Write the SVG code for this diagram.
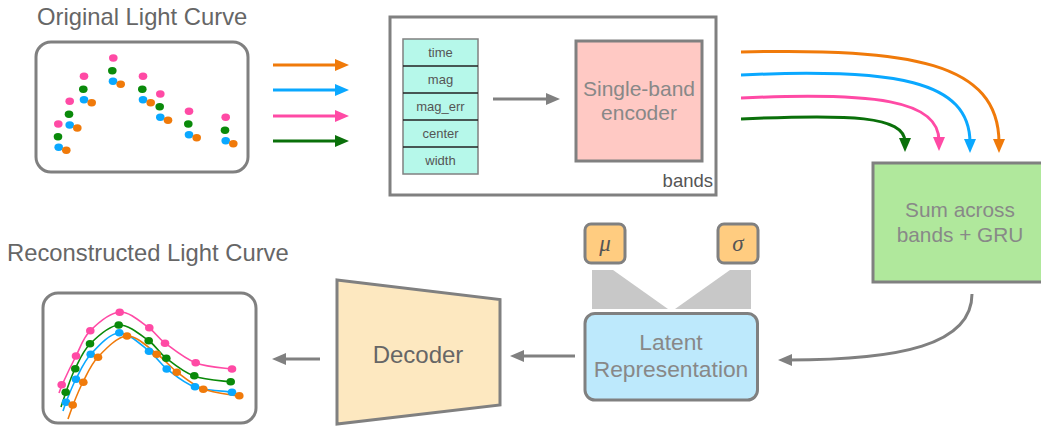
<svg xmlns="http://www.w3.org/2000/svg" width="1041" height="428" viewBox="0 0 1041 428">
<defs>
<style>
.box{stroke:#808080;stroke-width:3}
.title{font-family:"Liberation Sans",Arial,sans-serif;font-size:23.8px;fill:#666}
.lbl{font-family:"Liberation Sans",Arial,sans-serif;fill:#888;text-anchor:middle}
.tbl{font-family:"Liberation Sans",Arial,sans-serif;font-size:13px;fill:#555;text-anchor:middle}
.greek{font-family:"Liberation Serif","Times New Roman",serif;font-style:italic;font-size:23px;fill:#555;text-anchor:middle}
.pk{fill:#ff4aa5}.gr{fill:#0a8a0a}.bl{fill:#0aa8ff}.or{fill:#f07a0a}
.conn{fill:none;stroke-width:3}
.curve{fill:none;stroke-width:1.6}
</style>
<marker id="ah-or" markerUnits="userSpaceOnUse" markerWidth="14" markerHeight="12" refX="4" refY="6" orient="auto"><path d="M0,0 L14,6 L0,12 z" fill="#f07a0a"/></marker>
<marker id="ah-bl" markerUnits="userSpaceOnUse" markerWidth="14" markerHeight="12" refX="4" refY="6" orient="auto"><path d="M0,0 L14,6 L0,12 z" fill="#0aa8ff"/></marker>
<marker id="ah-pk" markerUnits="userSpaceOnUse" markerWidth="14" markerHeight="12" refX="4" refY="6" orient="auto"><path d="M0,0 L14,6 L0,12 z" fill="#ff4aa5"/></marker>
<marker id="ah-gr" markerUnits="userSpaceOnUse" markerWidth="14" markerHeight="12" refX="4" refY="6" orient="auto"><path d="M0,0 L14,6 L0,12 z" fill="#0a700a"/></marker>
<marker id="ah-gy" markerUnits="userSpaceOnUse" markerWidth="14" markerHeight="12" refX="4" refY="6" orient="auto"><path d="M0,0 L14,6 L0,12 z" fill="#808080"/></marker>
</defs>
<rect width="1041" height="428" fill="#fff"/>

<g id="original-curve">
<text class="title" x="37" y="25">Original Light Curve</text>
<rect class="box" x="36" y="42" width="212" height="130" rx="15" fill="#fff"/>
<g class="pk"><ellipse cx="58.3" cy="124" rx="4.3" ry="3.7"/><ellipse cx="69.7" cy="101.3" rx="4.3" ry="3.7"/><ellipse cx="84" cy="76.3" rx="4.3" ry="3.7"/><ellipse cx="113.3" cy="58" rx="4.3" ry="3.7"/><ellipse cx="143" cy="76.3" rx="4.3" ry="3.7"/><ellipse cx="160.3" cy="94" rx="4.3" ry="3.7"/><ellipse cx="189" cy="111.3" rx="4.3" ry="3.7"/><ellipse cx="225.7" cy="117.3" rx="4.3" ry="3.7"/></g>
<g class="gr"><ellipse cx="58" cy="136.7" rx="4.3" ry="3.7"/><ellipse cx="69" cy="114.3" rx="4.3" ry="3.7"/><ellipse cx="83.3" cy="89.3" rx="4.3" ry="3.7"/><ellipse cx="112.3" cy="70.7" rx="4.3" ry="3.7"/><ellipse cx="142.3" cy="89.3" rx="4.3" ry="3.7"/><ellipse cx="159.7" cy="106.7" rx="4.3" ry="3.7"/><ellipse cx="188.3" cy="124" rx="4.3" ry="3.7"/><ellipse cx="225" cy="130.3" rx="4.3" ry="3.7"/></g>
<g class="bl"><ellipse cx="58.7" cy="147.3" rx="4.3" ry="3.7"/><ellipse cx="69.7" cy="125" rx="4.3" ry="3.7"/><ellipse cx="84" cy="99.7" rx="4.3" ry="3.7"/><ellipse cx="113" cy="81.3" rx="4.3" ry="3.7"/><ellipse cx="143" cy="99.7" rx="4.3" ry="3.7"/><ellipse cx="160.3" cy="117.3" rx="4.3" ry="3.7"/><ellipse cx="189" cy="134.7" rx="4.3" ry="3.7"/><ellipse cx="225.7" cy="140.7" rx="4.3" ry="3.7"/></g>
<g class="or"><ellipse cx="66.3" cy="150.3" rx="4.3" ry="3.7"/><ellipse cx="77.3" cy="128" rx="4.3" ry="3.7"/><ellipse cx="91.7" cy="102.7" rx="4.3" ry="3.7"/><ellipse cx="120.7" cy="84.3" rx="4.3" ry="3.7"/><ellipse cx="150.7" cy="102.7" rx="4.3" ry="3.7"/><ellipse cx="168" cy="120.3" rx="4.3" ry="3.7"/><ellipse cx="196.7" cy="137.7" rx="4.3" ry="3.7"/><ellipse cx="233.3" cy="143.7" rx="4.3" ry="3.7"/></g>
</g>

<g id="bands-box">
<rect class="box" x="390" y="17" width="326" height="178" fill="#fff"/>
<text class="lbl" x="713" y="187" style="font-size:18.5px;fill:#555;text-anchor:end">bands</text>
</g>

<g id="feature-table">
<rect x="403" y="39" width="75" height="135" fill="#b6f8ea" stroke="#808080" stroke-width="1.5"/>
<g stroke="#222" stroke-width="1.3"><line x1="403" y1="66" x2="478" y2="66"/><line x1="403" y1="93" x2="478" y2="93"/><line x1="403" y1="120" x2="478" y2="120"/><line x1="403" y1="147" x2="478" y2="147"/></g>
<text class="tbl" x="440.5" y="57">time</text>
<text class="tbl" x="440.5" y="84">mag</text>
<text class="tbl" x="440.5" y="111">mag_err</text>
<text class="tbl" x="440.5" y="138">center</text>
<text class="tbl" x="440.5" y="165">width</text>
</g>

<g id="encoder">
<rect class="box" x="576" y="41" width="126" height="120" fill="#ffc9c4"/>
<text class="lbl" x="639" y="96" style="font-size:21px">Single-band</text>
<text class="lbl" x="639" y="120" style="font-size:21px">encoder</text>
</g>

<g id="gru">
<rect class="box" x="873" y="163" width="180" height="119" fill="#b0e89c"/>
<text class="lbl" x="960" y="217" style="font-size:20.8px">Sum across</text>
<text class="lbl" x="960" y="242" style="font-size:20.8px">bands + GRU</text>
</g>

<g id="mu">
<rect class="box" x="585" y="224" width="40" height="39" rx="6" fill="#ffcc80"/>
<text class="greek" x="605" y="251">μ</text>
</g>
<g id="sigma">
<rect class="box" x="718" y="224" width="40" height="39" rx="6" fill="#ffcc80"/>
<text class="greek" x="738" y="251">σ</text>
</g>

<g id="latent">
<polygon points="592,270 613,270 668,309 592,309" fill="#c8c8c8"/>
<polygon points="730,270 751,270 751,309 675,309" fill="#c8c8c8"/>
<rect class="box" x="585" y="313.5" width="172.5" height="86.5" rx="10" fill="#bde9fc"/>
<text class="lbl" x="671" y="350" style="font-size:22.8px">Latent</text>
<text class="lbl" x="671" y="377" style="font-size:22.8px">Representation</text>
</g>

<g id="decoder">
<polygon class="box" points="337,280 500,299.5 500,405 337,424" fill="#fde8c0"/>
<text class="lbl" x="418" y="363" style="font-size:24px;fill:#666">Decoder</text>
</g>

<g id="reconstructed-curve">
<text class="title" x="7" y="261">Reconstructed Light Curve</text>
<rect class="box" x="43" y="293" width="213" height="130" rx="15" fill="#fff"/>
<path class="curve" stroke="#ff4aa5" d="M59,393 L62,385 C64.8,378.8 71.3,365 76,356 C80.7,347 82.7,338.3 90,331 C97.3,323.7 110.2,312.5 120,312 C129.8,311.5 141.5,322.8 149,328 C156.5,333.2 157.2,337.2 165,343 C172.8,348.8 184.8,358.7 196,363 C207.2,367.3 226,368 232,369"/>
<path class="curve" stroke="#0a8a0a" d="M61,407 L66,392 C68.3,385.7 71,377 75,369 C79,361 82.7,351.3 90,344 C97.3,336.7 109.2,325.5 119,325 C128.8,324.5 141.2,335.5 149,341 C156.8,346.5 158.5,352.2 166,358 C173.5,363.8 183.2,372 194,376 C204.8,380 224.8,381 231,382"/>
<path class="curve" stroke="#0aa8ff" d="M63,411 L66,402 C68.2,396.7 71.8,387 76,379 C80.2,371 83.8,361.7 91,354 C98.2,346.3 109.3,333.5 119,333 C128.7,332.5 141,345 149,351 C157,357 159.3,363 167,369 C174.7,375 184.2,383.2 195,387 C205.8,390.8 225.8,391.2 232,392"/>
<path class="curve" stroke="#f07a0a" d="M68,419 L73,405 C75.3,399.2 78.8,390 83,382 C87.2,374 90.7,364.7 98,357 C105.3,349.3 117.2,336.5 127,336 C136.8,335.5 148.7,348 157,354 C165.3,360 169.3,366.2 177,372 C184.7,377.8 192.7,385 203,389 C213.3,393 233,394.8 243,397"/>
<g class="pk"><ellipse cx="61.7" cy="384.7" rx="4.3" ry="3.8"/><ellipse cx="76" cy="356" rx="4.3" ry="3.8"/><ellipse cx="90.3" cy="330.7" rx="4.3" ry="3.8"/><ellipse cx="119.7" cy="312.3" rx="4.3" ry="3.8"/><ellipse cx="149.3" cy="327.7" rx="4.3" ry="3.8"/><ellipse cx="165" cy="343.3" rx="4.3" ry="3.8"/><ellipse cx="195.7" cy="362.7" rx="4.3" ry="3.8"/><ellipse cx="232" cy="369" rx="4.3" ry="3.8"/></g>
<g class="gr"><ellipse cx="65.7" cy="392.3" rx="4.3" ry="3.8"/><ellipse cx="75.3" cy="368.7" rx="4.3" ry="3.8"/><ellipse cx="90" cy="343.7" rx="4.3" ry="3.8"/><ellipse cx="118.7" cy="325" rx="4.3" ry="3.8"/><ellipse cx="148.7" cy="340.7" rx="4.3" ry="3.8"/><ellipse cx="166.3" cy="358.3" rx="4.3" ry="3.8"/><ellipse cx="194.3" cy="375.7" rx="4.3" ry="3.8"/><ellipse cx="230.7" cy="381.7" rx="4.3" ry="3.8"/></g>
<g class="bl"><ellipse cx="66" cy="402.3" rx="4.3" ry="3.8"/><ellipse cx="76" cy="379.3" rx="4.3" ry="3.8"/><ellipse cx="90.7" cy="354.3" rx="4.3" ry="3.8"/><ellipse cx="119.3" cy="332.7" rx="4.3" ry="3.8"/><ellipse cx="149" cy="351.3" rx="4.3" ry="3.8"/><ellipse cx="166.7" cy="369" rx="4.3" ry="3.8"/><ellipse cx="195" cy="386.7" rx="4.3" ry="3.8"/><ellipse cx="232" cy="392.3" rx="4.3" ry="3.8"/></g>
<g class="or"><ellipse cx="72.7" cy="405" rx="4.3" ry="3.8"/><ellipse cx="83.3" cy="382.3" rx="4.3" ry="3.8"/><ellipse cx="98" cy="357.3" rx="4.3" ry="3.8"/><ellipse cx="127" cy="336" rx="4.3" ry="3.8"/><ellipse cx="156.7" cy="354.3" rx="4.3" ry="3.8"/><ellipse cx="176.7" cy="372.3" rx="4.3" ry="3.8"/><ellipse cx="203.3" cy="389.3" rx="4.3" ry="3.8"/><ellipse cx="239.3" cy="395.7" rx="4.3" ry="3.8"/></g>
</g>

<g id="connectors">
<path class="conn" stroke="#f07a0a" marker-end="url(#ah-or)" d="M273,65 H339"/>
<path class="conn" stroke="#0aa8ff" marker-end="url(#ah-bl)" d="M273,90 H339"/>
<path class="conn" stroke="#ff4aa5" marker-end="url(#ah-pk)" d="M273,116 H339"/>
<path class="conn" stroke="#0a700a" marker-end="url(#ah-gr)" d="M273,141 H339"/>
<path class="conn" stroke="#808080" marker-end="url(#ah-gy)" d="M493,99 H550"/>
<path class="conn" stroke="#f07a0a" marker-end="url(#ah-or)" d="M741,52 C910,48 999,62 999,143"/>
<path class="conn" stroke="#0aa8ff" marker-end="url(#ah-bl)" d="M741,75 C895,68 970,80 970,143"/>
<path class="conn" stroke="#ff4aa5" marker-end="url(#ah-pk)" d="M741,98 C875,92 939,100 939,141"/>
<path class="conn" stroke="#0a700a" marker-end="url(#ah-gr)" d="M741,119 C850,114 905,116 905,142"/>
<path class="conn" stroke="#808080" marker-end="url(#ah-gy)" d="M972,294 C972,345 900,360 788,360"/>
<path class="conn" stroke="#808080" marker-end="url(#ah-gy)" d="M575,356 H520"/>
<path class="conn" stroke="#808080" marker-end="url(#ah-gy)" d="M320,359 H282"/>
</g>
</svg>
